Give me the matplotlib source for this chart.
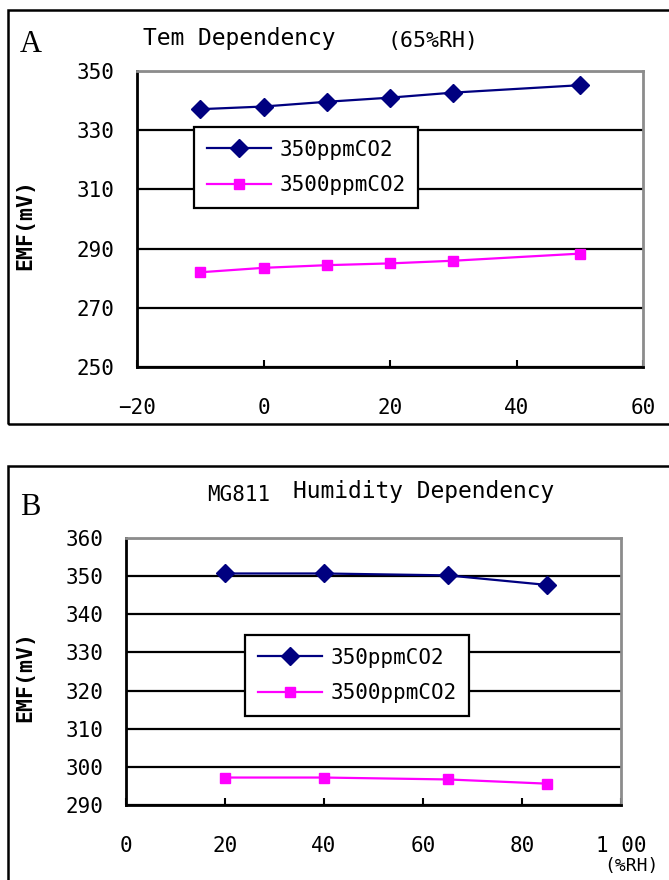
import matplotlib
matplotlib.use("Agg")
import matplotlib.pyplot as plt
from matplotlib.patches import Rectangle

# ---- data ----
temp_x = [-10, 0, 10, 20, 30, 50]
temp_350 = [337.1, 338.0, 339.6, 341.0, 342.7, 345.2]
temp_3500 = [282.0, 283.5, 284.4, 285.0, 285.9, 288.3]
temp_xticks = [-20, 0, 20, 40, 60]
temp_xticklabels = ["\u221220", "0", "20", "40", "60"]
temp_yticks = [250, 270, 290, 310, 330, 350]

hum_x = [20, 40, 65, 85]
hum_350 = [350.7, 350.7, 350.2, 347.7]
hum_3500 = [297.2, 297.2, 296.7, 295.6]
hum_xticks = [0, 20, 40, 60, 80, 100]
hum_xticklabels = ["0", "20", "40", "60", "80", "1 00"]
hum_yticks = [290, 300, 310, 320, 330, 340, 350, 360]

series_labels = ["350ppmCO2", "3500ppmCO2"]

W, H = 669, 880
fig = plt.figure(figsize=(W / 100, H / 100), dpi=100)
mono = "DejaVu Sans Mono"
serif = "Liberation Serif"
TICK_FS = 15

def fx(px):
    return px / W

def fy(py):
    return 1 - py / H

# panel frames
fig.patches.append(Rectangle((fx(8), fy(424)), fx(700), (424 - 10) / H,
                             transform=fig.transFigure, fill=False,
                             edgecolor="black", linewidth=1.8))
fig.patches.append(Rectangle((fx(8), fy(900)), fx(700), (900 - 466) / H,
                             transform=fig.transFigure, fill=False,
                             edgecolor="black", linewidth=1.8))


def style_axes(ax, xticks, xlabels, yticks, xpad, ypad):
    ax.set_xticks(xticks)
    ax.set_xticklabels(xlabels, fontfamily=mono, fontsize=TICK_FS)
    ax.set_yticks(yticks)
    ax.set_yticklabels([str(v) for v in yticks], fontfamily=mono, fontsize=TICK_FS)
    ax.tick_params(axis="x", direction="in", length=5, width=1.5, pad=xpad)
    ax.tick_params(axis="y", length=0, pad=ypad)
    ax.grid(axis="y", color="black", linewidth=1.6)
    ax.set_axisbelow(True)
    for s in ["left", "bottom"]:
        ax.spines[s].set_color("black")
        ax.spines[s].set_linewidth(2)
    for s in ["top", "right"]:
        ax.spines[s].set_color("#8c8c8c")
        ax.spines[s].set_linewidth(2)


def make_legend(ax, x, y):
    leg = ax.legend(loc="upper left", bbox_to_anchor=(fx(x), fy(y)),
                    bbox_transform=fig.transFigure, fancybox=False, framealpha=1,
                    edgecolor="black", prop={"family": mono, "size": TICK_FS},
                    handlelength=3.1, handletextpad=0.4, borderpad=0.6,
                    labelspacing=0.75, borderaxespad=0)
    leg.get_frame().set_linewidth(1.6)
    return leg


# ---- Panel A ----
axA = fig.add_axes([fx(137), fy(367), fx(643 - 137), (367 - 71) / H])
axA.plot(temp_x, temp_350, color="#000080", marker="D", markersize=9,
         linewidth=1.6, label=series_labels[0])
axA.plot(temp_x, temp_3500, color="#ff00ff", marker="s", markersize=7.5,
         linewidth=1.6, label=series_labels[1])
axA.set_xlim(-20, 60)
axA.set_ylim(250, 350)
style_axes(axA, temp_xticks, temp_xticklabels, temp_yticks, 22, 16)
make_legend(axA, 194, 127)
fig.text(fx(20), fy(44), "A", fontfamily=serif, fontsize=22, va="center", ha="left")
fig.text(fx(143), fy(38), "Tem Dependency", fontfamily=mono,
         fontsize=16.5, va="center", ha="left")
fig.text(fx(388), fy(41), "(65%RH)", fontfamily=mono,
         fontsize=15.5, va="center", ha="left")
fig.text(fx(25), fy(225), "EMF(mV)", fontfamily=mono, fontsize=15.5, rotation=90,
         va="center", ha="center", fontweight="bold")

# ---- Panel B ----
axB = fig.add_axes([fx(126), fy(805), fx(621 - 126), (805 - 538) / H])
axB.plot(hum_x, hum_350, color="#000080", marker="D", markersize=9,
         linewidth=1.6, label=series_labels[0])
axB.plot(hum_x, hum_3500, color="#ff00ff", marker="s", markersize=7.5,
         linewidth=1.6, label=series_labels[1])
axB.set_xlim(0, 100)
axB.set_ylim(290, 360)
style_axes(axB, hum_xticks, hum_xticklabels, hum_yticks, 22, 16)
make_legend(axB, 245, 635)
fig.text(fx(20), fy(507), "B", fontfamily=serif, fontsize=22, va="center", ha="left")
fig.text(fx(207), fy(495), "MG811", fontfamily=mono,
         fontsize=15, va="center", ha="left")
fig.text(fx(293), fy(491), "Humidity Dependency", fontfamily=mono,
         fontsize=16.5, va="center", ha="left")
fig.text(fx(25), fy(676), "EMF(mV)", fontfamily=mono, fontsize=15.5, rotation=90,
         va="center", ha="center", fontweight="bold")
fig.text(fx(631), fy(866), "(%RH)", fontfamily=mono, fontsize=13,
         va="center", ha="center")

fig.savefig("out.png", dpi=100)
